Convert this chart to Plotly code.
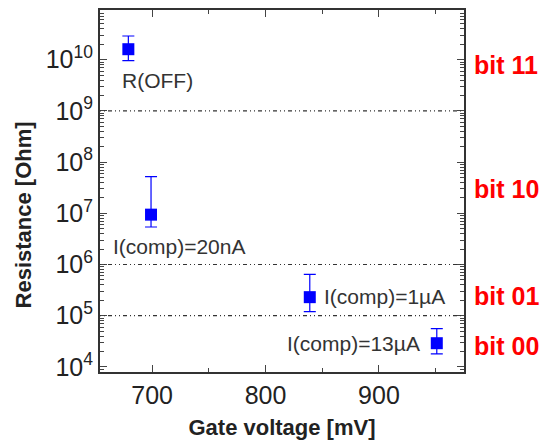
import math
import plotly.graph_objects as go

gate_mv = [679, 699, 839, 951]
resistance = [1.6e10, 9.4e6, 2.3e5, 2.9e4]
err_hi = [2.9e10, 5.2e7, 6.4e5, 5.6e4]
err_lo = [9.6e9, 5.4e6, 1.2e5, 1.8e4]

point_labels = ["R(OFF)", "I(comp)=20nA", "I(comp)=1µA", "I(comp)=13µA"]
label_x = [705, 664, 850, 938]
label_y = [4.0e9, 2.2e6, 2.35e5, 2.9e4]
label_anchor = ["center", "left", "left", "right"]

thresholds = [1e9, 1e6, 1e5]
bit_labels = ["bit 11", "bit 10", "bit 01", "bit 00"]
bit_y = [8.0e9, 3.0e7, 2.45e5, 2.6e4]

ytick_vals = [1e4, 1e5, 1e6, 1e7, 1e8, 1e9, 1e10]
ytick_text = ["10<sup>%d</sup>" % e for e in range(4, 11)]
minor_vals = [m * 10 ** e for e in range(3, 11) for m in range(2, 10)]

FONT = "Liberation Sans, Arial"

fig = go.Figure()
fig.add_trace(go.Scatter(
    x=gate_mv, y=resistance, mode="markers",
    marker=dict(symbol="square", size=12, color="#0000FF"),
    error_y=dict(type="data", symmetric=False,
                 array=[h - v for h, v in zip(err_hi, resistance)],
                 arrayminus=[v - l for v, l in zip(resistance, err_lo)],
                 color="#0000FF", thickness=1.2, width=6),
    showlegend=False,
))

for t in thresholds:
    fig.add_shape(type="line", xref="paper", x0=0, x1=1, yref="y", y0=t, y1=t,
                  line=dict(color="#333", width=1.2, dash="1px,3px,1px,3px,4px,3px"))

for txt, x, y, a in zip(point_labels, label_x, label_y, label_anchor):
    fig.add_annotation(x=x, y=math.log10(y), xref="x", yref="y", text=txt, showarrow=False,
                       xanchor=a, yanchor="middle",
                       font=dict(family=FONT, size=21, color="#333"))

for txt, y in zip(bit_labels, bit_y):
    fig.add_annotation(x=1.022, y=math.log10(y), xref="paper", yref="y", text="<b>%s</b>" % txt,
                       showarrow=False, xanchor="left", yanchor="middle",
                       font=dict(family=FONT, size=25, color="#FF0000"))

fig.add_annotation(x=-0.211, y=0.433, xref="paper", yref="paper", textangle=-90,
                   text="<b>Resistance [Ohm]</b>", showarrow=False,
                   xanchor="center", yanchor="middle",
                   font=dict(family=FONT, size=22, color="#222"))

fig.update_xaxes(range=[654, 975], tickvals=[700, 800, 900], ticks="inside", ticklen=7,
                 showline=True, linecolor="#333", linewidth=2, mirror="ticks",
                 showgrid=False, zeroline=False,
                 minor=dict(tickvals=[750, 850, 950], ticks="inside", ticklen=4),
                 tickfont=dict(family=FONT, size=25, color="#222"),
                 title=dict(text="<b>Gate voltage [mV]</b>", standoff=12,
                            font=dict(family=FONT, size=22, color="#222")))
fig.update_yaxes(type="log", range=[3.9, 10.97], tickvals=ytick_vals, ticktext=ytick_text,
                 ticks="inside", ticklen=7, showline=True, linecolor="#333", linewidth=2,
                 mirror="ticks", showgrid=False, zeroline=False,
                 minor=dict(tickvals=minor_vals, ticks="inside", ticklen=4),
                 tickfont=dict(family=FONT, size=25, color="#222"))

fig.update_layout(width=543, height=444, margin=dict(l=100, r=79, t=8, b=71),
                  plot_bgcolor="white", paper_bgcolor="white")
fig.write_html("out.html")
